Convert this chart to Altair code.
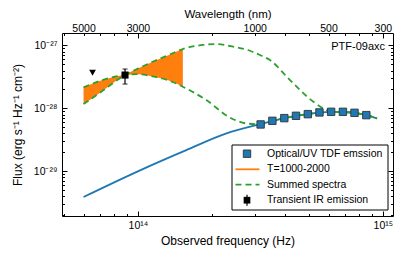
import altair as alt
import pandas as pd

# ---------------- data ----------------
# Optical/UV TDF photometry (blue squares)
uv_freq = [3.17e14, 3.54e14, 3.96e14, 4.42e14, 4.94e14, 5.51e14, 6.15e14, 6.87e14, 7.66e14, 8.56e14]
uv_flux = [5.56e-29, 6.35e-29, 7.01e-29, 7.63e-29, 8.11e-29, 8.63e-29, 8.83e-29, 8.83e-29, 8.51e-29, 7.82e-29]

# TDF blackbody model (blue line)
tdf_freq = [6.0e13, 1.0e14, 1.576e14, 2.30e14, 3.15e14, 4.42e14, 5.51e14, 6.15e14, 7.66e14, 8.56e14, 9.47e14]
tdf_flux = [3.91e-30, 1.0e-29, 2.17e-29, 4.0e-29, 5.6e-29, 7.6e-29, 8.6e-29, 8.8e-29, 8.5e-29, 7.8e-29, 6.93e-29]

# Dust emission T=1000-2000 (orange band)
dust_freq = [6.0e13, 7.17e13, 8.86e13, 1.0e14, 1.15e14, 1.346e14, 1.526e14]
dust_t1000 = [2.16e-28, 2.82e-28, 3.39e-28, 3.50e-28, 3.23e-28, 2.75e-28, 2.21e-28]
dust_t2000 = [1.17e-28, 1.90e-28, 3.39e-28, 4.29e-28, 5.52e-28, 7.16e-28, 8.79e-28]

# Summed spectra (green dashed)
sum1_freq = [6.0e13, 7.17e13, 8.86e13, 1.0e14, 1.15e14, 1.346e14, 1.526e14, 1.903e14, 2.371e14,
             2.776e14, 3.15e14, 3.54e14, 3.96e14, 4.42e14, 4.94e14, 5.51e14, 6.15e14, 6.87e14,
             7.66e14, 8.56e14, 9.47e14]
sum1_flux = [2.16e-28, 2.82e-28, 3.39e-28, 3.50e-28, 3.23e-28, 2.75e-28, 2.21e-28, 1.355e-28, 7.19e-29,
             5.77e-29, 5.6e-29, 6.35e-29, 7.0e-29, 7.63e-29, 8.11e-29, 8.63e-29, 8.83e-29, 8.8e-29,
             8.5e-29, 7.82e-29, 6.93e-29]
sum2_freq = [6.0e13, 7.17e13, 8.86e13, 1.0e14, 1.15e14, 1.346e14, 1.526e14, 1.843e14, 2.10e14,
             2.371e14, 2.864e14, 3.15e14, 3.459e14, 4.178e14, 5.205e14, 5.72e14, 6.15e14, 6.87e14,
             7.66e14, 8.56e14, 9.47e14]
sum2_flux = [1.17e-28, 1.90e-28, 3.39e-28, 4.29e-28, 5.52e-28, 7.16e-28, 8.79e-28, 1.02e-27, 1.05e-27,
             9.82e-28, 8.26e-28, 7.06e-28, 5.87e-28, 2.82e-28, 1.274e-28, 1.0e-28, 8.83e-29, 8.8e-29,
             8.5e-29, 7.82e-29, 6.93e-29]

# Transient IR emission (black square with error bar) and upper limit
ir_freq = [8.86e13]
ir_flux = [3.39e-28]
ir_lo = [2.44e-28]
ir_hi = [4.23e-28]
lim_freq = [6.53e13]
lim_flux = [3.69e-28]

# Axis ticks
x_major = [1e14, 1e15]
x_minor = [5e13, 6e13, 7e13, 8e13, 9e13, 2e14, 3e14, 4e14, 5e14, 6e14, 7e14, 8e14, 9e14]
wavelength_nm = [5000, 3000, 1000, 500, 300]
y_major = [1e-29, 1e-28, 1e-27]
y_minor = [2e-30, 3e-30, 4e-30, 5e-30, 6e-30, 7e-30, 8e-30, 9e-30,
           2e-29, 3e-29, 4e-29, 5e-29, 6e-29, 7e-29, 8e-29, 9e-29,
           2e-28, 3e-28, 4e-28, 5e-28, 6e-28, 7e-28, 8e-28, 9e-28]

legend_labels = ["Optical/UV TDF emssion", "T=1000-2000", "Summed spectra", "Transient IR emission"]

# ---------------- chart ----------------
W, H = 331, 183
TOP = 25
FONT = "Liberation Sans"
BLUE, ORANGE, GREEN = "#1f77b4", "#ff7f0e", "#2ca02c"

xs = alt.Scale(type="log", domain=[4.9e13, 1.1e15], nice=False)
ys = alt.Scale(type="log", domain=[1.95e-30, 1.58e-27], nice=False)

dummy = pd.DataFrame({"f": [1e14], "F": [1e-28]})


def X(field="f"):
    return alt.X(f"{field}:Q", scale=xs, axis=None)


def Y(field="F"):
    return alt.Y(f"{field}:Q", scale=ys, axis=None)


uv_df = pd.DataFrame({"f": uv_freq, "F": uv_flux})
tdf_df = pd.DataFrame({"f": tdf_freq, "F": tdf_flux})
dust_df = pd.DataFrame({"f": dust_freq, "lo": dust_t1000, "hi": dust_t2000})
sum1_df = pd.DataFrame({"f": sum1_freq, "F": sum1_flux})
sum2_df = pd.DataFrame({"f": sum2_freq, "F": sum2_flux})
ir_df = pd.DataFrame({"f": ir_freq, "F": ir_flux, "lo": ir_lo, "hi": ir_hi})
lim_df = pd.DataFrame({"f": lim_freq, "F": lim_flux})

band = alt.Chart(dust_df).mark_area(color=ORANGE, opacity=1, interpolate="monotone").encode(
    x=X(), y=Y("lo"), y2="hi:Q")
tdf_line = alt.Chart(tdf_df).mark_line(color=BLUE, strokeWidth=1.8, interpolate="monotone").encode(
    x=X(), y=Y())
sum1_line = alt.Chart(sum1_df).mark_line(color=GREEN, strokeWidth=1.8, strokeDash=[6, 4],
                                          interpolate="monotone").encode(x=X(), y=Y())
sum2_line = alt.Chart(sum2_df).mark_line(color=GREEN, strokeWidth=1.8, strokeDash=[6, 4],
                                          interpolate="monotone").encode(x=X(), y=Y())
uv_pts = alt.Chart(uv_df).mark_square(size=55, color=BLUE, opacity=1, stroke="#333333",
                                      strokeWidth=0.9).encode(x=X(), y=Y())
ir_bar = alt.Chart(ir_df).mark_rule(color="black", strokeWidth=1.2).encode(x=X(), y=Y("lo"), y2="hi:Q")
ir_cap_lo = alt.Chart(ir_df).mark_tick(color="black", orient="horizontal", size=5, thickness=1.2).encode(
    x=X(), y=Y("lo"))
ir_cap_hi = alt.Chart(ir_df).mark_tick(color="black", orient="horizontal", size=5, thickness=1.2).encode(
    x=X(), y=Y("hi"))
ir_pt = alt.Chart(ir_df).mark_square(size=50, color="black", opacity=1).encode(x=X(), y=Y())
lim_pt = alt.Chart(lim_df).mark_point(shape="triangle-down", size=45, filled=True, color="black",
                                      opacity=1).encode(x=X(), y=Y())

# pixel offsets below are relative to the plot's top-left corner (plot top at page y = 33)
DY = -2
label_txt = alt.Chart(dummy).mark_text(text="PTF-09axc", align="right", baseline="middle",
                                       font=FONT, fontSize=11, color="black").encode(
    x=alt.value(323), y=alt.value(15.7 + DY))

# legend (drawn as annotation)
LX0, LX1, LY0, LY1 = 170, 326, 114 + DY, 179 + DY
rows = [122.7 + DY, 138.3 + DY, 153.6 + DY, 169.2 + DY]
leg_box = alt.Chart(dummy).mark_rect(fill="white", stroke="black", strokeWidth=1).encode(
    x=alt.value(LX0), x2=alt.value(LX1), y=alt.value(LY0), y2=alt.value(LY1))
leg_sq = alt.Chart(dummy).mark_square(size=55, color=BLUE, opacity=1, stroke="#333333",
                                      strokeWidth=0.9).encode(x=alt.value(185), y=alt.value(rows[0]))
leg_or = alt.Chart(dummy).mark_rule(color=ORANGE, strokeWidth=1.8).encode(
    x=alt.value(173.5), x2=alt.value(197.5), y=alt.value(rows[1]))
leg_gr = alt.Chart(dummy).mark_rule(color=GREEN, strokeWidth=1.8, strokeDash=[6, 4]).encode(
    x=alt.value(173.5), x2=alt.value(197.5), y=alt.value(rows[2]))
leg_ir_bar = alt.Chart(dummy).mark_rule(color="black", strokeWidth=1.2).encode(
    x=alt.value(185), y=alt.value(rows[3] - 5.5), y2=alt.value(rows[3] + 5.5))
leg_ir_pt = alt.Chart(dummy).mark_square(size=45, color="black", opacity=1).encode(
    x=alt.value(185), y=alt.value(rows[3]))
leg_texts = [
    alt.Chart(dummy).mark_text(text=t, align="left", baseline="middle", font=FONT, fontSize=10.5,
                               color="black").encode(x=alt.value(205), y=alt.value(r))
    for t, r in zip(legend_labels, rows)
]


def axis_layer(xaxis=None, yaxis=None):
    return alt.Chart(dummy).mark_point(opacity=0).encode(
        x=alt.X("f:Q", scale=xs, axis=xaxis),
        y=alt.Y("F:Q", scale=ys, axis=yaxis),
    )


common = dict(grid=False, domain=False, labelOverlap=False, labelFlush=False)
tickonly = dict(labels=False, title="", **common)

axes = [
    # bottom labels + title
    axis_layer(xaxis=alt.Axis(orient="bottom", values=x_major, ticks=False, labelPadding=4,
                              labelExpr="datum.value < 5e14 ? '10¹⁴' : '10¹⁵'",
                              title="Observed frequency (Hz)", titleY=24, titleBaseline="middle",
                              **common)),
    # top labels + title
    axis_layer(xaxis=alt.Axis(orient="top", values=[3e17 / w for w in wavelength_nm], ticks=False,
                              labelPadding=0, labelExpr="'' + round(3e17 / datum.value)",
                              title="Wavelength (nm)", titleY=-TOP, titleBaseline="top",
                              titleFontSize=11.5, **common)),
    # left labels + title
    axis_layer(yaxis=alt.Axis(orient="left", values=y_major, ticks=False, labelPadding=5,
                              labelExpr="datum.value < 5e-29 ? '10⁻²⁹' : datum.value < 5e-28 ? '10⁻²⁸' : '10⁻²⁷'",
                              title="Flux (erg s⁻¹ Hz⁻¹ cm⁻²)", titleX=-45, titleAngle=270,
                              titleBaseline="middle", **common)),
    # inward ticks: bottom edge
    axis_layer(xaxis=alt.Axis(orient="top", offset=-H, values=x_major, tickSize=5, **tickonly)),
    axis_layer(xaxis=alt.Axis(orient="top", offset=-H, values=x_minor, tickSize=2.5, **tickonly)),
    # inward ticks: top edge
    axis_layer(xaxis=alt.Axis(orient="bottom", offset=-H, values=x_major, tickSize=5, **tickonly)),
    axis_layer(xaxis=alt.Axis(orient="bottom", offset=-H, values=x_minor, tickSize=2.5, **tickonly)),
    # inward ticks: left edge
    axis_layer(yaxis=alt.Axis(orient="right", offset=-W, values=y_major, tickSize=5, **tickonly)),
    axis_layer(yaxis=alt.Axis(orient="right", offset=-W, values=y_minor, tickSize=2.5, **tickonly)),
    # inward ticks: right edge
    axis_layer(yaxis=alt.Axis(orient="left", offset=-W, values=y_major, tickSize=5, **tickonly)),
    axis_layer(yaxis=alt.Axis(orient="left", offset=-W, values=y_minor, tickSize=2.5, **tickonly)),
]

chart = alt.layer(
    band, tdf_line, sum1_line, sum2_line, uv_pts, ir_bar, ir_cap_lo, ir_cap_hi, ir_pt, lim_pt,
    label_txt, leg_box, leg_sq, leg_or, leg_gr, leg_ir_bar, leg_ir_pt, *leg_texts, *axes
).resolve_axis(x="independent", y="independent").properties(
    width=W, height=H,
    autosize=alt.AutoSizeParams(type="none"),
    padding={"left": 54, "top": TOP, "right": 14, "bottom": 33},
).configure_view(
    stroke="black", strokeWidth=1
).configure_axis(
    labelFont=FONT, titleFont=FONT, labelFontSize=10.5, titleFontSize=12, titleFontWeight="normal",
    labelColor="black", titleColor="black", tickColor="black", tickWidth=1,
)

chart.save("out.html", embed_options={"renderer": "svg", "actions": False})
